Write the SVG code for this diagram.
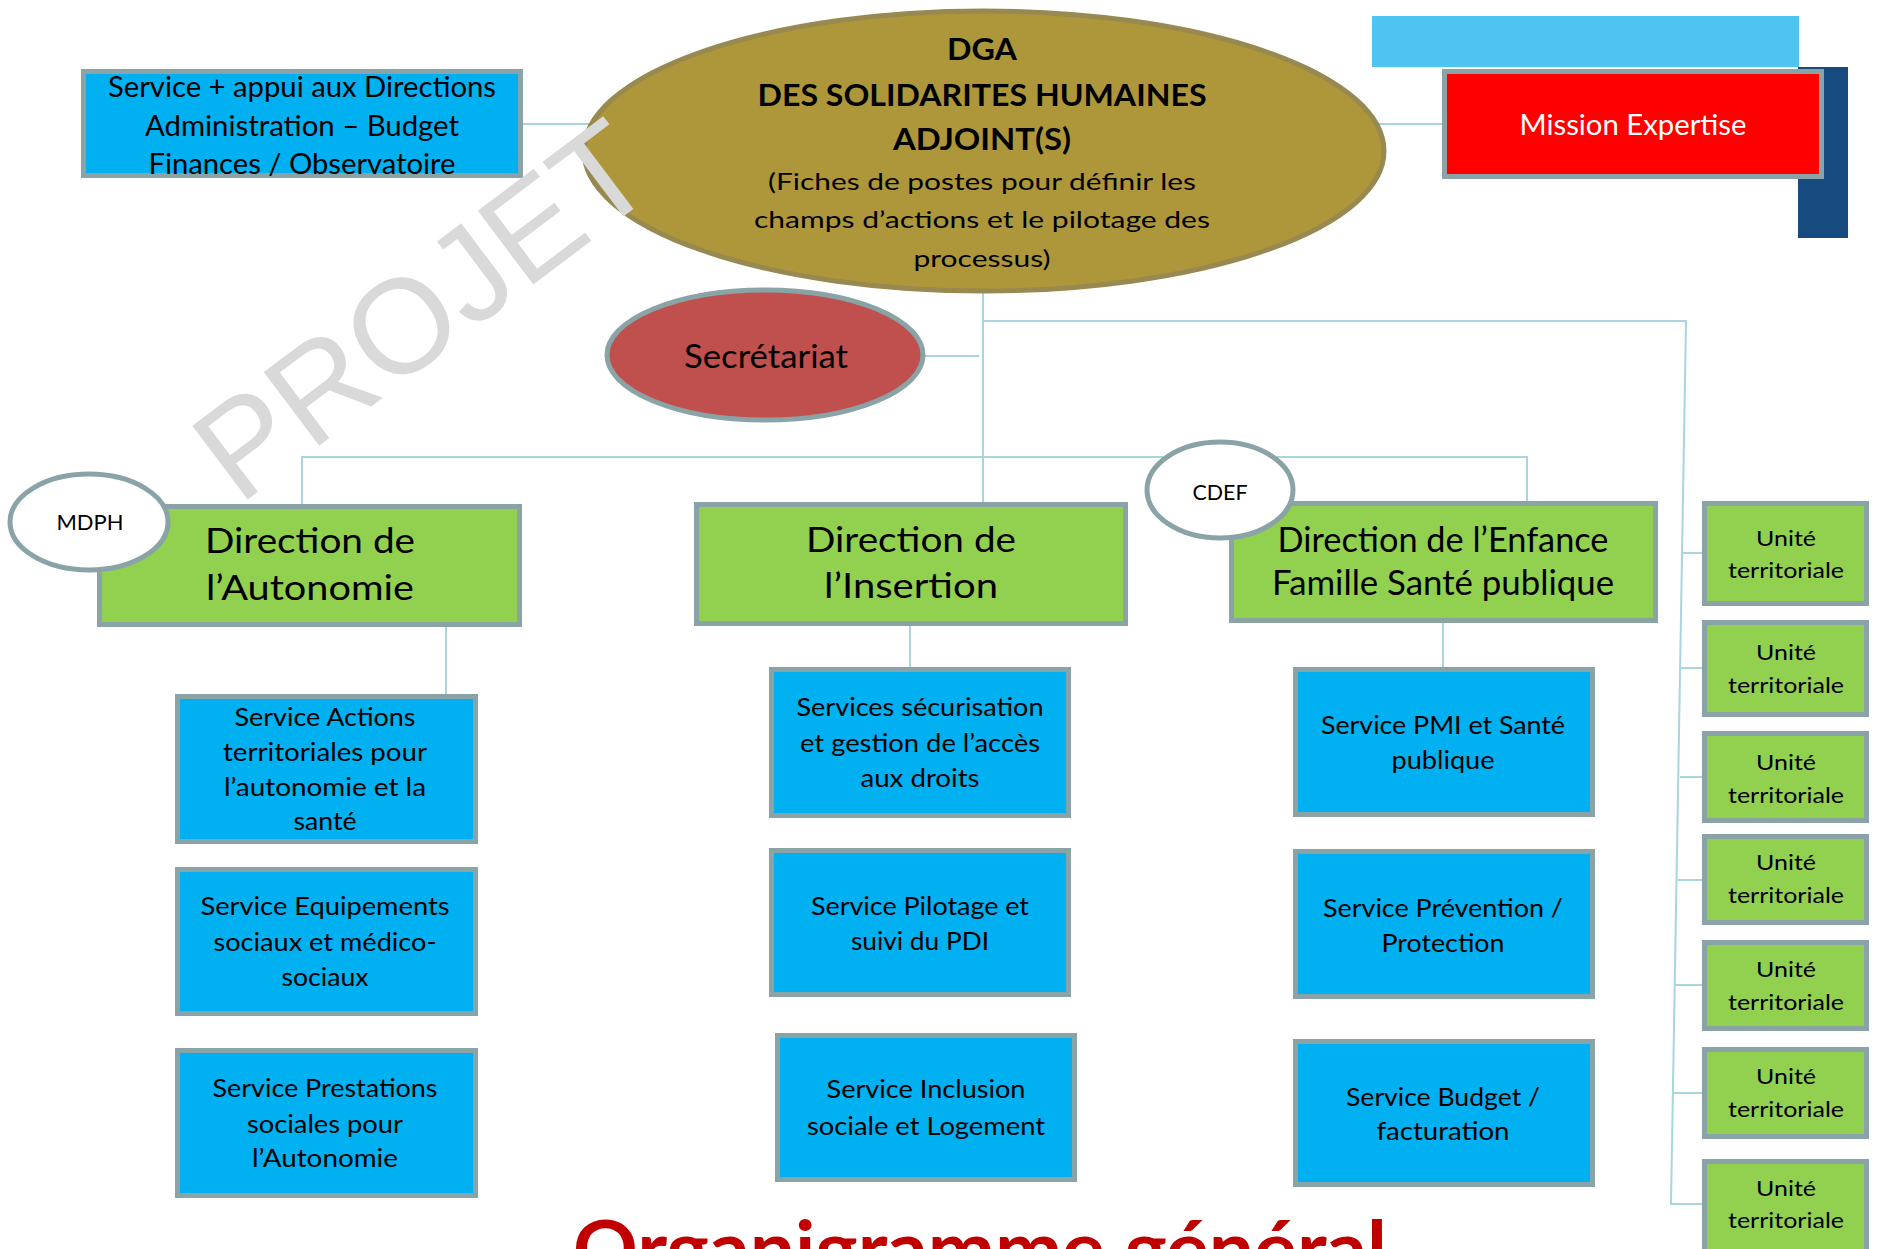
<svg xmlns="http://www.w3.org/2000/svg" width="1878" height="1249" viewBox="0 0 1878 1249">
<style>
.box{stroke:#8aa3a6;stroke-width:5}
.blue{fill:#00b0f0}
.green{fill:#92d050}
.conn{stroke:#a9d5df;stroke-width:2;fill:none}
.t{font-family:Lato,"Liberation Sans",sans-serif;fill:#000;text-anchor:middle}
.s28{font-size:28px}
.s25{font-size:25px}
.s35{font-size:35px}
.s22{font-size:22px}
.b{font-weight:bold}
</style>
<rect width="1878" height="1249" fill="#ffffff"/>
<g id="connectors">
<line class="conn" x1="523" y1="124" x2="590" y2="124"/>
<line class="conn" x1="1378" y1="124" x2="1443" y2="124"/>
<line class="conn" x1="983" y1="292" x2="983" y2="503"/>
<line class="conn" x1="925" y1="356" x2="979" y2="356"/>
<polyline class="conn" points="983,321 1686,321 1671,1204 1704,1204"/>
<polyline class="conn" points="302,504 302,457 1527,457 1527,502"/>
<line class="conn" x1="446" y1="627" x2="446" y2="707"/>
<line class="conn" x1="910" y1="626" x2="910" y2="668"/>
<line class="conn" x1="1443" y1="623" x2="1443" y2="667"/>
<line class="conn" x1="1683" y1="553" x2="1704" y2="553"/>
<line class="conn" x1="1680" y1="668" x2="1704" y2="668"/>
<line class="conn" x1="1680" y1="777" x2="1704" y2="777"/>
<line class="conn" x1="1678" y1="880" x2="1704" y2="880"/>
<line class="conn" x1="1674" y1="985" x2="1704" y2="985"/>
<line class="conn" x1="1674" y1="1093" x2="1704" y2="1093"/>
</g>
<g id="deco">
<rect x="1372" y="16" width="427" height="51" fill="#4ec5f1"/>
<rect x="1798" y="67" width="50" height="171" fill="#174a7e"/>
</g>
<g id="service-appui">
<rect class="box blue" x="83.5" y="71.5" width="437" height="104"/>
<text class="t s28" x="302" y="97" textLength="388" lengthAdjust="spacingAndGlyphs">Service + appui aux Directions</text>
<text class="t s28" x="302" y="136" textLength="314" lengthAdjust="spacingAndGlyphs">Administration – Budget</text>
<text class="t s28" x="302" y="174" textLength="307" lengthAdjust="spacingAndGlyphs">Finances / Observatoire</text>
</g>
<g id="dga">
<ellipse cx="984" cy="151" rx="400" ry="140" fill="#ae973a" stroke="#97894f" stroke-width="5"/>
<text class="t b" font-size="30" x="982" y="60" textLength="70" lengthAdjust="spacingAndGlyphs">DGA</text>
<text class="t b" font-size="30" x="982" y="106" textLength="449" lengthAdjust="spacingAndGlyphs">DES SOLIDARITES HUMAINES</text>
<text class="t b" font-size="30" x="982" y="150" textLength="178" lengthAdjust="spacingAndGlyphs">ADJOINT(S)</text>
<text class="t" font-size="24" x="982" y="190" textLength="428" lengthAdjust="spacingAndGlyphs">(Fiches de postes pour définir les</text>
<text class="t" font-size="24" x="982" y="228" textLength="456" lengthAdjust="spacingAndGlyphs">champs d’actions et le pilotage des</text>
<text class="t" font-size="24" x="982" y="267" textLength="137" lengthAdjust="spacingAndGlyphs">processus)</text>
</g>
<g id="mission-expertise">
<rect class="box" fill="#ff0000" x="1444.5" y="71.5" width="377" height="105"/>
<text class="t s28" style="fill:#ffffff" x="1633" y="135" textLength="227" lengthAdjust="spacingAndGlyphs">Mission Expertise</text>
</g>
<g id="secretariat">
<ellipse class="box" cx="765" cy="355" rx="158" ry="65" fill="#c0504d"/>
<text class="t" font-size="32" x="766" y="368" textLength="164" lengthAdjust="spacingAndGlyphs">Secrétariat</text>
</g>
<g id="dir-autonomie">
<rect class="box green" x="99.5" y="506.5" width="420" height="118"/>
<text class="t s35" x="310" y="553" textLength="210" lengthAdjust="spacingAndGlyphs">Direction de</text>
<text class="t s35" x="310" y="600" textLength="208" lengthAdjust="spacingAndGlyphs">l’Autonomie</text>
</g>
<g id="mdph">
<ellipse class="box" cx="89" cy="522" rx="79" ry="48" fill="#ffffff"/>
<text class="t" font-size="21" x="90" y="530" textLength="67" lengthAdjust="spacingAndGlyphs">MDPH</text>
</g>
<g id="dir-insertion">
<rect class="box green" x="696.5" y="504.5" width="429" height="119"/>
<text class="t s35" x="911" y="552" textLength="210" lengthAdjust="spacingAndGlyphs">Direction de</text>
<text class="t s35" x="911" y="598" textLength="174" lengthAdjust="spacingAndGlyphs">l’Insertion</text>
</g>
<g id="dir-enfance">
<rect class="box green" x="1231.5" y="503.5" width="424" height="117"/>
<text class="t s35" x="1443" y="552" textLength="331" lengthAdjust="spacingAndGlyphs">Direction de l’Enfance</text>
<text class="t s35" x="1443" y="595" textLength="342" lengthAdjust="spacingAndGlyphs">Famille Santé publique</text>
</g>
<g id="cdef">
<ellipse class="box" cx="1220" cy="490" rx="73" ry="48" fill="#ffffff"/>
<text class="t" font-size="21" x="1220" y="500" textLength="55" lengthAdjust="spacingAndGlyphs">CDEF</text>
</g>
<g id="svc-actions-territoriales">
<rect class="box blue" x="177.5" y="696.5" width="298" height="145"/>
<text class="t s25" x="325" y="726" textLength="181" lengthAdjust="spacingAndGlyphs">Service Actions</text>
<text class="t s25" x="325" y="761" textLength="204" lengthAdjust="spacingAndGlyphs">territoriales pour</text>
<text class="t s25" x="325" y="796" textLength="202" lengthAdjust="spacingAndGlyphs">l’autonomie et la</text>
<text class="t s25" x="325" y="830" textLength="63" lengthAdjust="spacingAndGlyphs">santé</text>
</g>
<g id="svc-equipements">
<rect class="box blue" x="177.5" y="869.5" width="298" height="144"/>
<text class="t s25" x="325" y="915" textLength="249" lengthAdjust="spacingAndGlyphs">Service Equipements</text>
<text class="t s25" x="325" y="951" textLength="223" lengthAdjust="spacingAndGlyphs">sociaux et médico-</text>
<text class="t s25" x="325" y="986" textLength="87" lengthAdjust="spacingAndGlyphs">sociaux</text>
</g>
<g id="svc-prestations">
<rect class="box blue" x="177.5" y="1050.5" width="298" height="145"/>
<text class="t s25" x="325" y="1097" textLength="225" lengthAdjust="spacingAndGlyphs">Service Prestations</text>
<text class="t s25" x="325" y="1133" textLength="156" lengthAdjust="spacingAndGlyphs">sociales pour</text>
<text class="t s25" x="325" y="1167" textLength="146" lengthAdjust="spacingAndGlyphs">l’Autonomie</text>
</g>
<g id="svc-securisation">
<rect class="box blue" x="771.5" y="669.5" width="297" height="146"/>
<text class="t s25" x="920" y="716" textLength="247" lengthAdjust="spacingAndGlyphs">Services sécurisation</text>
<text class="t s25" x="920" y="752" textLength="240" lengthAdjust="spacingAndGlyphs">et gestion de l’accès</text>
<text class="t s25" x="920" y="787" textLength="119" lengthAdjust="spacingAndGlyphs">aux droits</text>
</g>
<g id="svc-pilotage">
<rect class="box blue" x="771.5" y="850.5" width="297" height="144"/>
<text class="t s25" x="920" y="915" textLength="218" lengthAdjust="spacingAndGlyphs">Service Pilotage et</text>
<text class="t s25" x="920" y="950" textLength="138" lengthAdjust="spacingAndGlyphs">suivi du PDI</text>
</g>
<g id="svc-inclusion">
<rect class="box blue" x="777.5" y="1035.5" width="297" height="144"/>
<text class="t s25" x="926" y="1098" textLength="199" lengthAdjust="spacingAndGlyphs">Service Inclusion</text>
<text class="t s25" x="926" y="1135" textLength="238" lengthAdjust="spacingAndGlyphs">sociale et Logement</text>
</g>
<g id="svc-pmi">
<rect class="box blue" x="1295.5" y="669.5" width="297" height="145"/>
<text class="t s25" x="1443" y="734" textLength="244" lengthAdjust="spacingAndGlyphs">Service PMI et Santé</text>
<text class="t s25" x="1443" y="769" textLength="103" lengthAdjust="spacingAndGlyphs">publique</text>
</g>
<g id="svc-prevention">
<rect class="box blue" x="1295.5" y="851.5" width="297" height="145"/>
<text class="t s25" x="1443" y="917" textLength="240" lengthAdjust="spacingAndGlyphs">Service Prévention /</text>
<text class="t s25" x="1443" y="952" textLength="123" lengthAdjust="spacingAndGlyphs">Protection</text>
</g>
<g id="svc-budget">
<rect class="box blue" x="1295.5" y="1041.5" width="297" height="143"/>
<text class="t s25" x="1443" y="1106" textLength="194" lengthAdjust="spacingAndGlyphs">Service Budget /</text>
<text class="t s25" x="1443" y="1140" textLength="133" lengthAdjust="spacingAndGlyphs">facturation</text>
</g>
<g id="ut-1">
<rect class="box green" x="1704.5" y="503.5" width="162" height="100"/>
<text class="t s22" x="1786" y="546" textLength="60" lengthAdjust="spacingAndGlyphs">Unité</text>
<text class="t s22" x="1786" y="578" textLength="116" lengthAdjust="spacingAndGlyphs">territoriale</text>
</g>
<g id="ut-2">
<rect class="box green" x="1704.5" y="622.5" width="162" height="92"/>
<text class="t s22" x="1786" y="660" textLength="60" lengthAdjust="spacingAndGlyphs">Unité</text>
<text class="t s22" x="1786" y="693" textLength="116" lengthAdjust="spacingAndGlyphs">territoriale</text>
</g>
<g id="ut-3">
<rect class="box green" x="1704.5" y="733.5" width="162" height="87"/>
<text class="t s22" x="1786" y="770" textLength="60" lengthAdjust="spacingAndGlyphs">Unité</text>
<text class="t s22" x="1786" y="803" textLength="116" lengthAdjust="spacingAndGlyphs">territoriale</text>
</g>
<g id="ut-4">
<rect class="box green" x="1704.5" y="836.5" width="162" height="86"/>
<text class="t s22" x="1786" y="870" textLength="60" lengthAdjust="spacingAndGlyphs">Unité</text>
<text class="t s22" x="1786" y="903" textLength="116" lengthAdjust="spacingAndGlyphs">territoriale</text>
</g>
<g id="ut-5">
<rect class="box green" x="1704.5" y="942.5" width="162" height="86"/>
<text class="t s22" x="1786" y="977" textLength="60" lengthAdjust="spacingAndGlyphs">Unité</text>
<text class="t s22" x="1786" y="1010" textLength="116" lengthAdjust="spacingAndGlyphs">territoriale</text>
</g>
<g id="ut-6">
<rect class="box green" x="1704.5" y="1049.5" width="162" height="87"/>
<text class="t s22" x="1786" y="1084" textLength="60" lengthAdjust="spacingAndGlyphs">Unité</text>
<text class="t s22" x="1786" y="1117" textLength="116" lengthAdjust="spacingAndGlyphs">territoriale</text>
</g>
<g id="ut-7">
<rect class="box green" x="1704.5" y="1161.5" width="162" height="100"/>
<text class="t s22" x="1786" y="1196" textLength="60" lengthAdjust="spacingAndGlyphs">Unité</text>
<text class="t s22" x="1786" y="1228" textLength="116" lengthAdjust="spacingAndGlyphs">territoriale</text>
</g>
<text id="title" x="573" y="1276" font-family="Lato,'Liberation Sans',sans-serif" font-weight="bold" font-size="76" fill="#c00000" textLength="814" lengthAdjust="spacingAndGlyphs">Organigramme général</text>
<text id="watermark" transform="translate(239,506) rotate(-37)" x="0" y="0" font-family="'Liberation Sans',Arial,sans-serif" font-size="134" fill="#d9d9d9">PROJET</text>
</svg>
